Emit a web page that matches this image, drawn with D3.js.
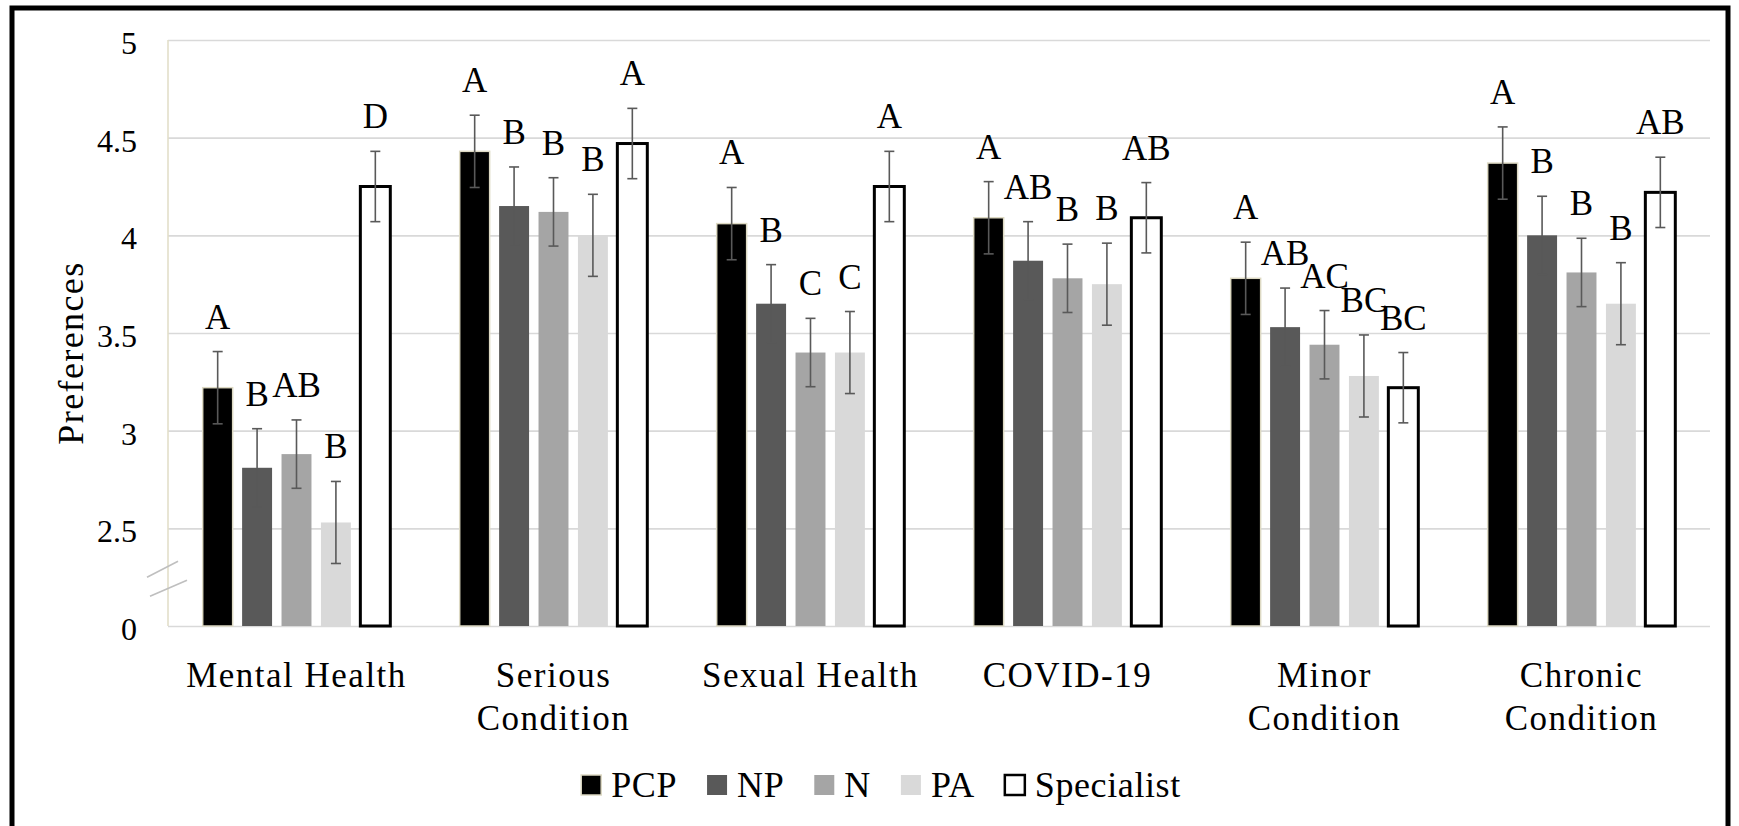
<!DOCTYPE html>
<html>
<head>
<meta charset="utf-8">
<script src="https://cdn.jsdelivr.net/npm/d3@7"></script>
<style>
  html, body { margin: 0; padding: 0; background: #ffffff; }
  svg { display: block; }
</style>
</head>
<body>
<svg id="chart" width="1739" height="826"></svg>
<script>
// Care-setting preference scores by provider type
const categories = ["Mental Health", "Serious\nCondition", "Sexual Health", "COVID-19", "Minor\nCondition", "Chronic\nCondition"];
const series = ["PCP", "NP", "N", "PA", "Specialist"];

const pcpValues        = [3.22, 4.43, 4.06, 4.09, 3.78, 4.37];
const npValues         = [2.81, 4.15, 3.65, 3.87, 3.53, 4.00];
const nValues          = [2.88, 4.12, 3.40, 3.78, 3.44, 3.81];
const paValues         = [2.53, 4.00, 3.40, 3.75, 3.28, 3.65];
const specialistValues = [4.25, 4.47, 4.25, 4.09, 3.22, 4.22];

const pcpErrors        = [0.185, 0.185, 0.185, 0.185, 0.185, 0.185];
const npErrors         = [0.20, 0.20, 0.20, 0.20, 0.20, 0.20];
const nErrors          = [0.175, 0.175, 0.175, 0.175, 0.175, 0.175];
const paErrors         = [0.21, 0.21, 0.21, 0.21, 0.21, 0.21];
const specialistErrors = [0.18, 0.18, 0.18, 0.18, 0.18, 0.18];

const pcpLetters        = ["A", "A", "A", "A", "A", "A"];
const npLetters         = ["B", "B", "B", "AB", "AB", "B"];
const nLetters          = ["AB", "B", "C", "B", "AC", "B"];
const paLetters         = ["B", "B", "C", "B", "BC", "B"];
const specialistLetters = ["D", "A", "A", "AB", "BC", "AB"];

// The axis is broken below 2.5: the bottom position is labelled 0
const tickValues = [2, 2.5, 3, 3.5, 4, 4.5, 5];
const tickLabels = ["0", "2.5", "3", "3.5", "4", "4.5", "5"];

const valueTable = [pcpValues, npValues, nValues, paValues, specialistValues];
const errorTable = [pcpErrors, npErrors, nErrors, paErrors, specialistErrors];
const letterTable = [pcpLetters, npLetters, nLetters, paLetters, specialistLetters];

const FONT = "'Liberation Serif', 'Times New Roman', serif";
const fills   = { PCP: "#000000", NP: "#595959", N: "#a5a5a5", PA: "#d9d9d9", Specialist: "#ffffff" };
const strokes = { PCP: "#ddd9c3", NP: "none", N: "none", PA: "none", Specialist: "#000000" };
const strokeW = { PCP: 1.5, NP: 0, N: 0, PA: 0, Specialist: 3 };

const svg = d3.select("#chart");
const plot = { left: 168, right: 1710, top: 40, bottom: 626 };

// Outer frame
svg.append("rect")
  .attr("x", 12).attr("y", 8)
  .attr("width", 1716).attr("height", 840)
  .attr("fill", "none").attr("stroke", "#000").attr("stroke-width", 5);

const x0 = d3.scaleBand().domain(categories).range([plot.left, plot.right])
  .paddingInner(0.27).paddingOuter(0.135);
const x1 = d3.scaleBand().domain(series).range([0, x0.bandwidth()]).paddingInner(0.24);
const y = d3.scaleLinear().domain([2, 5]).range([plot.bottom, plot.top]);

// Horizontal gridlines
const grid = svg.append("g").attr("transform", `translate(${plot.left},0)`)
  .call(d3.axisLeft(y).tickValues(tickValues).tickSize(-(plot.right - plot.left)).tickFormat(""));
grid.select(".domain").remove();
grid.selectAll(".tick line").attr("stroke", "#d9d9d9").attr("stroke-width", 1.6);

// Vertical axis line
svg.append("line")
  .attr("x1", plot.left).attr("x2", plot.left)
  .attr("y1", plot.top).attr("y2", plot.bottom)
  .attr("stroke", "#e3dfca").attr("stroke-width", 1.6);

// Y tick labels
const yAxis = svg.append("g").attr("transform", `translate(${plot.left},0)`)
  .call(d3.axisLeft(y).tickValues(tickValues).tickSize(0).tickPadding(31)
    .tickFormat((d, i) => tickLabels[i]));
yAxis.attr("font-family", null).attr("font-size", null);
yAxis.select(".domain").remove();
yAxis.selectAll(".tick text")
  .style("font-family", FONT)
  .style("font-size", "32px").attr("fill", "#000").attr("dy", "0.42em");

// Axis break marks
const breakY = (y(2) + y(2.5)) / 2;
[0, 1].forEach(k => {
  const off = k === 0 ? -8 : 11;
  svg.append("line")
    .attr("x1", plot.left - 21 + (k ? 3 : 0)).attr("y1", breakY + off + 8)
    .attr("x2", plot.left + 10 + (k ? 9 : 0)).attr("y2", breakY + off - 8)
    .attr("stroke", "#bfbfbf").attr("stroke-width", 1.6);
});

// Y axis title
svg.append("text")
  .attr("transform", `translate(83,353) rotate(-90)`)
  .attr("text-anchor", "middle")
  .style("font-family", FONT).style("font-size", "36px")
  .attr("letter-spacing", 1.4)
  .text("Preferences");

// Bars, error bars and group letters
const rows = [];
categories.forEach((c, ci) => {
  series.forEach((s, si) => {
    rows.push({ c, s, v: valueTable[si][ci], e: errorTable[si][ci], t: letterTable[si][ci] });
  });
});

const bars = svg.append("g");
bars.selectAll("rect").data(rows).join("rect")
  .attr("x", d => x0(d.c) + x1(d.s))
  .attr("y", d => y(d.v))
  .attr("width", x1.bandwidth())
  .attr("height", d => y(2) - y(d.v))
  .attr("fill", d => fills[d.s])
  .attr("stroke", d => strokes[d.s])
  .attr("stroke-width", d => strokeW[d.s]);

const errs = svg.append("g").attr("stroke", "#595959").attr("stroke-width", 1.6);
rows.forEach(d => {
  const cx = x0(d.c) + x1(d.s) + x1.bandwidth() / 2;
  const yt = y(d.v + d.e), yb = y(d.v - d.e);
  errs.append("line").attr("x1", cx).attr("x2", cx).attr("y1", yt).attr("y2", yb);
  errs.append("line").attr("x1", cx - 5).attr("x2", cx + 5).attr("y1", yt).attr("y2", yt);
  errs.append("line").attr("x1", cx - 5).attr("x2", cx + 5).attr("y1", yb).attr("y2", yb);
});

svg.append("g").selectAll("text").data(rows).join("text")
  .attr("x", d => x0(d.c) + x1(d.s) + x1.bandwidth() / 2)
  .attr("y", d => y(d.v + d.e) - 23)
  .attr("text-anchor", "middle")
  .style("font-family", FONT).style("font-size", "35px")
  .attr("fill", "#000")
  .text(d => d.t);

// Category labels
const catG = svg.append("g");
categories.forEach(c => {
  const t = catG.append("text")
    .attr("x", x0(c) + x0.bandwidth() / 2)
    .attr("y", 687)
    .attr("text-anchor", "middle")
    .style("font-family", FONT).style("font-size", "35px")
    .attr("letter-spacing", 1.5).attr("fill", "#000");
  c.split("\n").forEach((line, i) => {
    t.append("tspan").attr("x", x0(c) + x0.bandwidth() / 2).attr("dy", i ? 43 : 0).text(line);
  });
});

// Legend
const legend = svg.append("g");
let lx = 0;
series.forEach(s => {
  const g = legend.append("g").attr("transform", `translate(${lx},0)`);
  g.append("rect")
    .attr("x", 0).attr("y", 775).attr("width", 20).attr("height", 20)
    .attr("fill", fills[s])
    .attr("stroke", s === "PCP" ? "#ddd9c3" : (s === "Specialist" ? "#000" : "none"))
    .attr("stroke-width", s === "Specialist" ? 2.5 : 1.5);
  const txt = g.append("text")
    .attr("x", 30).attr("y", 797)
    .style("font-family", FONT).style("font-size", "36px")
    .attr("letter-spacing", 0.6).attr("fill", "#000")
    .text(s);
  const w = txt.node().getComputedTextLength();
  lx += 30 + w + 30;
});
const legendWidth = lx - 30;
legend.attr("transform", `translate(${881 - legendWidth / 2},0)`);
</script>
</body>
</html>
